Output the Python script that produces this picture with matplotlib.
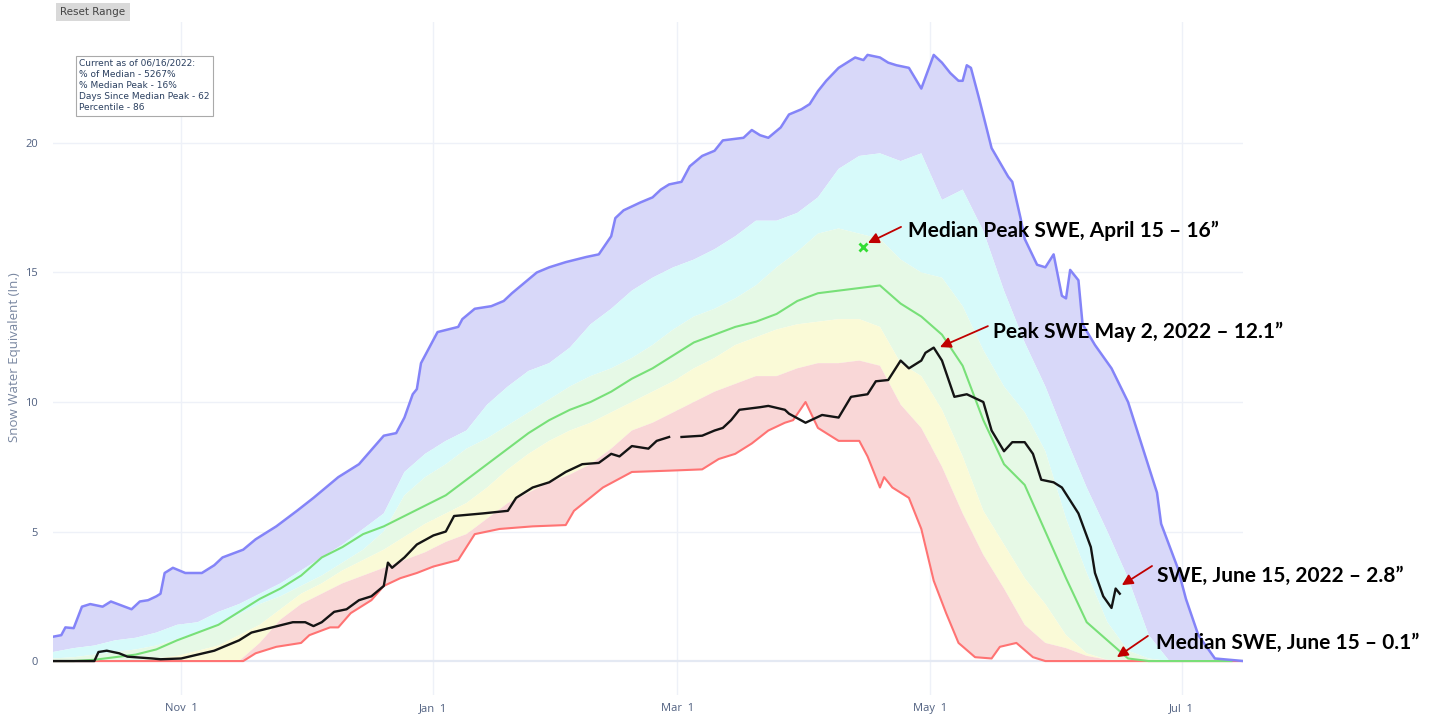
import matplotlib
matplotlib.use("Agg")
import matplotlib.pyplot as plt

# ---------------- data (days since Oct 1, 2021) ----------------
grid_days = list(range(0, 290, 5))

p90 = [0.35, 0.5, 0.6, 0.8, 0.9, 1.1, 1.4, 1.5, 1.9, 2.2, 2.6, 3.0, 3.5, 4.0, 4.5, 5.1,
       5.7, 7.3, 8.0, 8.5, 8.9, 9.9, 10.6, 11.2, 11.5, 12.1, 13.0, 13.6, 14.3, 14.8, 15.2,
       15.5, 15.9, 16.4, 17.0, 17.0, 17.3, 17.9, 19.0, 19.5, 19.6, 19.3, 19.6, 17.8, 18.2,
       16.6, 14.3, 12.3, 10.6, 8.6, 6.7, 5.0, 3.2, 1.0, 0.0, 0.0, 0.0, 0.0]
p70 = [0.1, 0.15, 0.25, 0.35, 0.45, 0.6, 0.85, 1.1, 1.4, 1.8, 2.2, 2.5, 2.9, 3.3, 3.8, 4.3,
       5.0, 6.4, 7.1, 7.6, 8.2, 8.6, 9.1, 9.6, 10.1, 10.6, 11.0, 11.3, 11.7, 12.2, 12.8,
       13.3, 13.6, 14.0, 14.5, 15.2, 15.8, 16.5, 16.7, 16.5, 16.3, 15.5, 15.0, 14.8, 13.7,
       12.0, 10.6, 9.6, 8.1, 5.5, 3.4, 1.5, 0.4, 0.1, 0.0, 0.0, 0.0, 0.0]
median = [0.0, 0.0, 0.05, 0.15, 0.25, 0.45, 0.8, 1.1, 1.4, 1.9, 2.4, 2.8, 3.3, 4.0, 4.4, 4.9,
          5.2, 5.6, 6.0, 6.4, 7.0, 7.6, 8.2, 8.8, 9.3, 9.7, 10.0, 10.4, 10.9, 11.3, 11.8,
          12.3, 12.6, 12.9, 13.1, 13.4, 13.9, 14.2, 14.3, 14.4, 14.5, 13.8, 13.3, 12.6, 11.4,
          9.3, 7.6, 6.8, 5.0, 3.2, 1.5, 0.8, 0.1, 0.0, 0.0, 0.0, 0.0, 0.0]
p30 = [0.0, 0.0, 0.0, 0.0, 0.02, 0.1, 0.2, 0.4, 0.6, 1.0, 1.4, 2.0, 2.6, 3.0, 3.5, 3.9,
       4.3, 4.8, 5.3, 5.7, 6.1, 6.7, 7.4, 8.0, 8.5, 8.9, 9.2, 9.6, 10.0, 10.4, 10.8,
       11.3, 11.7, 12.2, 12.5, 12.8, 13.0, 13.1, 13.2, 13.2, 12.9, 11.5, 11.0, 9.7, 7.9,
       5.8, 4.5, 3.2, 2.2, 1.0, 0.3, 0.05, 0.0, 0.0, 0.0, 0.0, 0.0, 0.0]
p10 = [0.0, 0.0, 0.0, 0.0, 0.0, 0.0, 0.0, 0.0, 0.0, 0.0, 0.7, 1.6, 2.2, 2.6, 3.0, 3.3,
       3.6, 3.9, 4.2, 4.6, 4.9, 5.5, 6.1, 6.5, 6.9, 7.2, 7.6, 8.2, 8.9, 9.2, 9.6,
       10.0, 10.4, 10.7, 11.0, 11.0, 11.3, 11.5, 11.5, 11.6, 11.4, 9.9, 9.0, 7.5, 5.7,
       4.1, 2.8, 1.4, 0.7, 0.5, 0.2, 0.05, 0.0, 0.0, 0.0, 0.0, 0.0, 0.0]

max_days = [0, 2, 3, 5, 7, 9, 12, 14, 19, 21, 23, 25, 26, 27, 29, 32, 36, 39, 41, 46, 49,
            54, 59, 63, 66, 69, 74, 77, 80, 83, 85, 87, 88, 89, 93, 98, 99, 102, 106, 109,
            111, 114, 117, 120, 124, 129, 132, 135, 136, 138, 142, 145, 147, 149, 152, 154,
            157, 160, 162, 167, 169, 171, 173, 176, 178, 181, 183, 185, 187, 190, 194, 196,
            197, 200, 202, 204, 207, 210, 213, 215, 217, 219, 220, 221, 222, 224, 227, 231,
            232, 234, 235, 238, 240, 242, 244, 245, 246, 248, 249, 252, 256, 260, 263, 267,
            268, 272, 274, 277, 281, 288]
max_swe = [0.94, 1.0, 1.3, 1.27, 2.1, 2.2, 2.1, 2.3, 2.0, 2.3, 2.35, 2.5, 2.6, 3.4, 3.6,
           3.4, 3.4, 3.7, 4.0, 4.3, 4.7, 5.2, 5.8, 6.3, 6.7, 7.1, 7.6, 8.15, 8.7, 8.8, 9.4,
           10.3, 10.5, 11.5, 12.7, 12.9, 13.2, 13.6, 13.7, 13.9, 14.2, 14.6, 15.0, 15.2,
           15.4, 15.6, 15.7, 16.4, 17.1, 17.4, 17.7, 17.9, 18.2, 18.4, 18.5, 19.1, 19.5,
           19.7, 20.1, 20.2, 20.5, 20.3, 20.2, 20.6, 21.1, 21.3, 21.5, 22.0, 22.4, 22.9,
           23.3, 23.2, 23.4, 23.3, 23.1, 23.0, 22.9, 22.1, 23.4, 23.1, 22.7, 22.4, 22.4,
           23.0, 22.9, 21.7, 19.8, 18.7, 18.5, 17.1, 16.3, 15.3, 15.2, 15.7, 14.1, 14.0,
           15.1, 14.7, 13.0, 12.2, 11.3, 10.0, 8.5, 6.5, 5.3, 3.6, 2.4, 1.0, 0.1, 0.0]

min_days = [0, 46, 49, 54, 60, 62, 67, 69, 72, 77, 80, 84, 88, 92, 98, 102, 108, 116, 124,
            126, 133, 140, 149, 157, 161, 165, 169, 173, 177, 179, 182, 185, 190, 195, 197,
            200, 201, 203, 207, 210, 213, 216, 219, 223, 227, 229, 233, 237, 240, 288]
min_swe = [0.0, 0.0, 0.3, 0.55, 0.7, 1.0, 1.3, 1.3, 1.85, 2.35, 2.9, 3.2, 3.4, 3.65, 3.9,
           4.9, 5.1, 5.2, 5.25, 5.8, 6.7, 7.3, 7.35, 7.4, 7.8, 8.0, 8.4, 8.9, 9.2, 9.3, 10.0,
           9.0, 8.5, 8.5, 7.9, 6.7, 7.1, 6.7, 6.3, 5.1, 3.1, 1.85, 0.7, 0.15, 0.1, 0.55, 0.7,
           0.15, 0.0, 0.0]

wy2022_days = [0, 10, 11, 13, 16, 18, 24, 26, 31, 35, 39, 42, 45, 48, 53, 58, 61, 63, 65,
               68, 71, 74, 77, 80, 81, 82, 85, 88, 92, 95, 97, 104, 110, 112, 116, 120, 124,
               128, 132, 135, 137, 140, 144, 146, 149, 150, 152, 157, 160, 162, 164, 166,
               171, 173, 177, 178, 182, 186, 190, 193, 197, 199, 202, 205, 207, 210, 211,
               213, 215, 218, 221, 225, 227, 230, 232, 235, 237, 239, 242, 244, 248, 251,
               252, 254, 256, 257, 258]
wy2022_swe = [0.0, 0.0, 0.35, 0.4, 0.3, 0.17, 0.1, 0.07, 0.1, 0.25, 0.4, 0.6, 0.8, 1.1, 1.3,
              1.5, 1.5, 1.35, 1.5, 1.9, 2.0, 2.35, 2.5, 2.9, 3.8, 3.6, 4.0, 4.5, 4.85, 5.0,
              5.6, 5.7, 5.8, 6.3, 6.7, 6.9, 7.3, 7.6, 7.65, 8.0, 7.9, 8.3, 8.2, 8.5, 8.65,
              float("nan"), 8.65, 8.7, 8.9, 9.0, 9.3, 9.7, 9.8, 9.85, 9.7, 9.55, 9.2, 9.5, 9.4,
              10.2, 10.3, 10.8, 10.85, 11.6, 11.3, 11.6, 11.9, 12.1, 11.6, 10.2, 10.3, 10.0,
              8.9, 8.1, 8.45, 8.45, 8.0, 7.0, 6.9, 6.7, 5.7, 4.4, 3.4, 2.5, 2.05, 2.8, 2.6]

median_peak_day = 196   # April 15
median_peak_swe = 16.0

tick_days = [31, 92, 151, 212, 273]
tick_labels = ["Nov  1", "Jan  1", "Mar  1", "May  1", "Jul  1"]
y_ticks = [0, 5, 10, 15, 20]

info_lines = ["Current as of 06/16/2022:", "% of Median - 5267%", "% Median Peak - 16%",
              "Days Since Median Peak - 62", "Percentile - 86"]

# ---------------- figure ----------------
W, H = 1440, 717
fig = plt.figure(figsize=(W / 100, H / 100), dpi=100)
ax = fig.add_axes([53 / W, 1 - 695 / H, (1243 - 53) / W, (695 - 22) / H])
ax.set_xlim(0, 287.8)
ax.set_ylim(-1.31, 24.67)
for s in ax.spines.values():
    s.set_visible(False)

grid_c = "#EEF1F8"
for t in tick_days:
    ax.axvline(t, color=grid_c, lw=1, zorder=0)
for t in y_ticks:
    ax.axhline(t, color=grid_c if t else "#E4E9F3", lw=1 if t else 1.6, zorder=0)


def band(x_hi, y_hi, x_lo, y_lo, color):
    xs = list(x_hi) + list(x_lo)[::-1]
    ys = list(y_hi) + list(y_lo)[::-1]
    ax.fill(xs, ys, color=color, lw=0, zorder=1)


band(max_days, max_swe, grid_days, p90, "#D8D8F9")
band(grid_days, p90, grid_days, p70, "#D7FAFA")
band(grid_days, p70, grid_days, p30, "#E6F9E6")
band(grid_days, p30, grid_days, p10, "#FAFAD7")
band(grid_days, p10, min_days, min_swe, "#F9D7D7")

ax.plot(min_days, min_swe, color="#FF7373", lw=1.5, zorder=3)
ax.plot(grid_days, median, color="#78E078", lw=1.5, zorder=3)
ax.plot(max_days, max_swe, color="#8484F8", lw=1.8, zorder=3)
ax.plot(wy2022_days, wy2022_swe, color="#141414", lw=1.7, zorder=4)
ax.plot([median_peak_day], [median_peak_swe], marker="x", color="#33DD33",
        ms=6, mew=2, ls="none", zorder=5)

ax.set_xticks(tick_days)
ax.set_xticklabels(tick_labels)
ax.set_yticks(y_ticks)
ax.tick_params(length=0, labelsize=8, labelcolor="#506080", pad=6)
ax.tick_params(axis="y", pad=11)
for lab in ax.get_xticklabels() + ax.get_yticklabels():
    lab.set_fontfamily("Open Sans")

fig.text(15 / W, 1 - 357 / H, "Snow Water Equivalent (In.)", rotation=90,
         ha="center", va="center", fontsize=9.5, color="#7886A0", family="Open Sans")

fig.text(93 / W, 1 - 12 / H, "Reset Range", ha="center", va="center", fontsize=7.5,
         color="#444444", family="DejaVu Sans",
         bbox=dict(boxstyle="square,pad=0.4", fc="#D9D9D9", ec="none"))

fig.text(79 / W, 1 - 59 / H, "\n".join(info_lines), ha="left", va="top", fontsize=6.5,
         color="#2A3F5F", family="DejaVu Sans", linespacing=1.3,
         bbox=dict(boxstyle="square,pad=0.35", fc="white", ec="#AAAAAA", lw=0.8))

# ---------------- annotations ----------------
arrow_c = "#C00000"
annots = [
    ("Median Peak SWE, April 15 \u2013 16\u201d", (197.1, 16.14), (205.1, 16.76), (908, 231)),
    ("Peak SWE May 2, 2022 \u2013 12.1\u201d", (214.5, 12.12), (226.1, 12.93), (993, 332)),
    ("SWE, June 15, 2022 \u2013 2.8\u201d", (258.5, 2.93), (265.8, 3.67), (1157, 576)),
    ("Median SWE, June 15 \u2013 0.1\u201d", (257.3, 0.15), (264.8, 0.97), (1156, 643)),
]
for text, head, tail, tpos in annots:
    ax.annotate("", xy=head, xytext=tail, annotation_clip=False,
                arrowprops=dict(arrowstyle="-|>", color=arrow_c, lw=1.3,
                                mutation_scale=16, shrinkA=0, shrinkB=0), zorder=6)
    fig.text(tpos[0] / W, 1 - tpos[1] / H, text, ha="left", va="center",
             fontsize=15, fontweight="bold", family="Lato", color="black")

fig.savefig("out.png", dpi=100)
